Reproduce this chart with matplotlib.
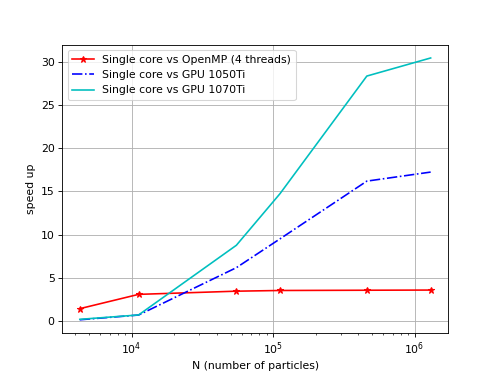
import matplotlib
matplotlib.use('Agg')
import matplotlib.pyplot as plt

n_particles = [4300, 11200, 55000, 112000, 460000, 1300000]
speedup_omp = [1.39, 3.05, 3.42, 3.5, 3.53, 3.55]
speedup_1050 = [0.1, 0.65, 6.15, 9.5, 16.2, 17.25]
speedup_1070 = [0.15, 0.66, 8.75, 14.75, 28.4, 30.5]

fig = plt.figure(figsize=(498/78, 374/78), dpi=78)
ax = fig.add_subplot(111)
ax.plot(n_particles, speedup_omp, 'r-*', label='Single core vs OpenMP (4 threads)')
ax.plot(n_particles, speedup_1050, 'b-.', label='Single core vs GPU 1050Ti')
ax.plot(n_particles, speedup_1070, 'c-', label='Single core vs GPU 1070Ti')
ax.set_xscale('log')
ax.set_xlabel('N (number of particles)')
ax.set_ylabel('speed up')
ax.grid(True)
ax.legend()
fig.savefig('out.png', dpi=78)
